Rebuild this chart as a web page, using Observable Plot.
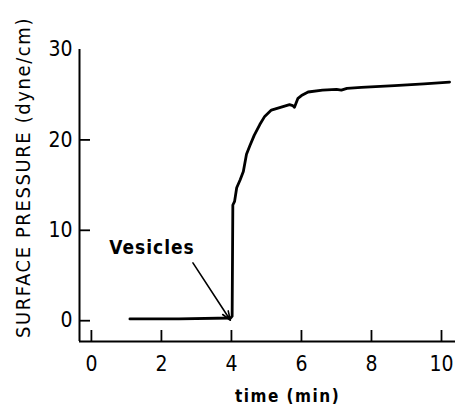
<!DOCTYPE html>
<html>
<head>
<meta charset="utf-8">
<script src="https://cdn.jsdelivr.net/npm/d3@7"></script>
<script src="https://cdn.jsdelivr.net/npm/@observablehq/plot@0.6"></script>
<style>
  html, body { margin: 0; padding: 0; background: #fff; }
</style>
</head>
<body>
<div id="chart"></div>
<script>
// time (min)
const time = [1.1, 2.5, 3.98, 4.02, 4.04, 4.09, 4.15, 4.25, 4.34, 4.43, 4.52, 4.65, 4.81, 4.95, 5.14, 5.4, 5.66, 5.75, 5.80, 5.9, 6.0, 6.19, 6.6, 7.0, 7.14, 7.3, 7.71, 8.66, 9.5, 10.23];
// surface pressure (dyne/cm)
const pressure = [0.2, 0.2, 0.3, 0.5, 12.8, 13.2, 14.7, 15.6, 16.5, 18.4, 19.3, 20.5, 21.7, 22.6, 23.3, 23.6, 23.9, 23.8, 23.6, 24.6, 24.9, 25.3, 25.5, 25.6, 25.5, 25.7, 25.8, 26.0, 26.2, 26.4];

const xTicks = [0, 2, 4, 6, 8, 10];
const yTickMarks = [0, 10, 20];
const yTickLabels = [0, 10, 20, 30];
const xDomain = [-0.34, 10.4];
const yDomain = [-2.3, 30];

const annotation = ["Vesicles"];
const annotationX = [1.73];
const annotationY = [8.0];
const arrowFrom = [[2.9, 6.4]];
const arrowTo = [[3.97, 0.05]];

const xLabel = "time (min)";
const yLabel = "SURFACE PRESSURE (dyne/cm)";

const data = time.map((t, i) => ({time: t, pressure: pressure[i]}));
const arrows = arrowFrom.map((a, i) => ({x1: a[0], y1: a[1], x2: arrowTo[i][0], y2: arrowTo[i][1]}));
const notes = annotation.map((s, i) => ({text: s, x: annotationX[i], y: annotationY[i]}));

const font = "'DejaVu Sans Condensed', 'DejaVu Sans', sans-serif";

const chart = Plot.plot({
  width: 456,
  height: 411,
  marginLeft: 79,
  marginRight: 1,
  marginTop: 49,
  marginBottom: 70,
  style: {fontFamily: font, color: "#000", background: "#fff"},
  x: {domain: xDomain},
  y: {domain: yDomain},
  marks: [
    // axis lines
    Plot.ruleX([xDomain[0]], {stroke: "#000", strokeWidth: 2}),
    Plot.ruleY([yDomain[0]], {stroke: "#000", strokeWidth: 2}),
    // inward ticks
    Plot.axisX(xTicks, {tickSize: -11, tickFormat: () => "", strokeWidth: 1.8, label: null}),
    Plot.axisY(yTickMarks, {tickSize: -11, tickFormat: () => "", strokeWidth: 1.8, label: null}),
    // tick labels
    Plot.axisX(xTicks, {tickSize: 0, tickPadding: 15, fontSize: 21, label: null, tickFormat: d => String(d)}),
    Plot.axisY(yTickLabels, {tickSize: 0, tickPadding: 7, fontSize: 21, label: null, tickFormat: d => String(d)}),
    // axis titles
    Plot.text([xLabel], {frameAnchor: "bottom", dx: 20, dy: 60, fontSize: 17, fontWeight: "bold", fill: "#000", text: d => d}),
    Plot.text([yLabel], {frameAnchor: "left", textAnchor: "middle", dx: -56, dy: -18, rotate: -90, fontSize: 20, fill: "#000", text: d => d}),
    // data
    Plot.line(data, {x: "time", y: "pressure", stroke: "#000", strokeWidth: 2.8, curve: "linear", strokeLinejoin: "round"}),
    // annotation
    Plot.text(notes, {x: "x", y: "y", text: "text", fontSize: 19, fontWeight: "bold", fill: "#000"}),
    Plot.arrow(arrows, {x1: "x1", y1: "y1", x2: "x2", y2: "y2", stroke: "#000", strokeWidth: 1.6, headLength: 9, headAngle: 40})
  ]
});

// letter spacing for titles
d3.select(chart).selectAll("text").each(function() {
  const t = this.textContent;
  if (t === yLabel) this.setAttribute("letter-spacing", "1.6");
  if (t === xLabel) this.setAttribute("letter-spacing", "1.5");
  if (t === "Vesicles") this.setAttribute("letter-spacing", "1");
});

document.getElementById("chart").appendChild(chart);
</script>
</body>
</html>
